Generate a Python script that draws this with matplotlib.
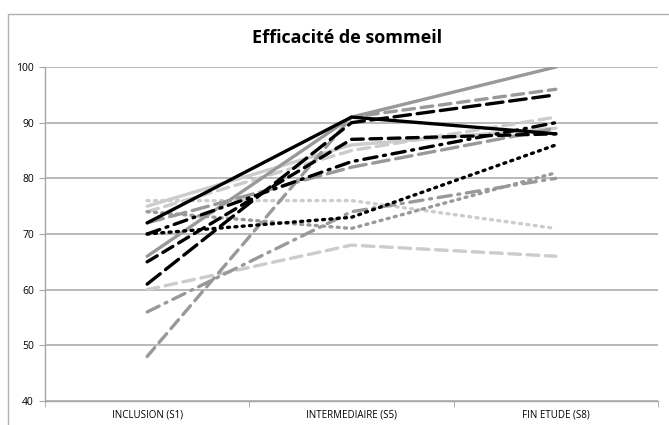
import matplotlib
matplotlib.use("Agg")
import matplotlib.pyplot as plt
from matplotlib.patches import Rectangle

categories = ["INCLUSION (S1)", "INTERMEDIAIRE (S5)", "FIN ETUDE (S8)"]
title = "Efficacité de sommeil"

# series values (S1, S5, S8)
s_black_solid = [72, 91, 88]
s_black_dash = [65, 87, 88]
s_black_longdash = [61, 90, 95]
s_black_dashdot = [70, 83, 90]
s_black_dot = [70, 73, 86]
s_gray_solid = [66, 91, 100]
s_gray_dash = [48, 91, 96]
s_gray_dashdot = [56, 74, 80]
s_gray_dot = [74, 71, 81]
s_gray_longdash = [72, 82, 89]
s_light_solid = [75, 86, 89]
s_light_dash = [74, 85, 91]
s_light_dash2 = [60, 68, 66]
s_light_dot = [76, 76, 71]

BLACK = "#000000"
GRAY = "#999999"
LIGHT = "#cccccc"

series = [
    (s_light_dot, LIGHT, (0, (0.6, 1.6))),
    (s_light_dash2, LIGHT, (0, (3.5, 2))),
    (s_light_dash, LIGHT, (0, (3.5, 2))),
    (s_light_solid, LIGHT, "-"),
    (s_gray_dot, GRAY, (0, (0.6, 1.6))),
    (s_gray_dashdot, GRAY, (0, (4, 2, 0.6, 2))),
    (s_gray_longdash, GRAY, (0, (5, 2))),
    (s_gray_dash, GRAY, (0, (3.5, 2))),
    (s_gray_solid, GRAY, "-"),
    (s_black_dot, BLACK, (0, (0.6, 1.6))),
    (s_black_dashdot, BLACK, (0, (4, 2, 0.6, 2))),
    (s_black_dash, BLACK, (0, (3.5, 2))),
    (s_black_longdash, BLACK, (0, (5, 2))),
    (s_black_solid, BLACK, "-"),
]

fig = plt.figure(figsize=(6.69, 4.25), dpi=100)
ax = fig.add_axes([45/669, 1-401/425, (658-45)/669, (401-67)/425])

x = list(range(len(categories)))
for vals, col, ls in series:
    ax.plot(x, vals, color=col, linestyle=ls, linewidth=2.4,
            dash_capstyle="round", solid_capstyle="round")

ax.set_xlim(-0.5, 2.5)
ax.set_ylim(40, 100)
ax.set_yticks(range(40, 101, 10))
ax.yaxis.grid(True, color="#a6a6a6", linewidth=1.1)
ax.set_axisbelow(True)
ax.set_xticks(x)
ax.set_xticklabels(categories, fontsize=7, family="Open Sans")
ax.set_xticks([-0.5, 0.5, 1.5, 2.5], minor=True)
ax.tick_params(axis="x", which="major", length=0, pad=6)
ax.tick_params(axis="x", which="minor", length=4, color="#a6a6a6")
ax.tick_params(axis="y", length=4, color="#a6a6a6", labelsize=7.5, pad=4)
for lab in ax.get_yticklabels():
    lab.set_family("Open Sans")
for side in ["top", "right"]:
    ax.spines[side].set_visible(False)
for side in ["left", "bottom"]:
    ax.spines[side].set_color("#a6a6a6")
    ax.spines[side].set_linewidth(1.0)

fig.text(347/669, 1-38/425, title, ha="center", va="center",
         fontsize=13, fontweight="bold", family="Open Sans")

fig.patches.append(Rectangle((8/669, -0.05), 1.1, 1-14/425+0.05,
                             transform=fig.transFigure, fill=False,
                             edgecolor="#b0b0b0", linewidth=1.0))

fig.savefig("out.png", dpi=100)
